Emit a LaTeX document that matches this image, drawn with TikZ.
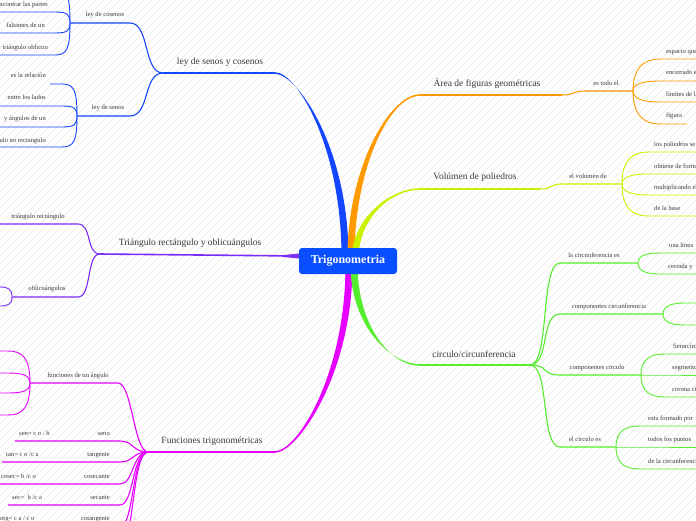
\documentclass[tikz,border=0pt]{standalone}
\usepackage{fontspec}
\setmainfont{Liberation Serif}
\usepackage{tikz}
\usetikzlibrary{calc}
\definecolor{core}{HTML}{0A4FFF}
\definecolor{senos}{HTML}{1446FF}
\definecolor{tri}{HTML}{7B2CF7}
\definecolor{func}{HTML}{E600FF}
\definecolor{area}{HTML}{FF9A00}
\definecolor{vol}{HTML}{C9F200}
\definecolor{circ}{HTML}{55EE2E}
\definecolor{ink}{HTML}{3A3A3A}
\definecolor{hatchc}{HTML}{EAEAEA}
\newcommand{\limb}[5]{%
  \fill[#1] ($(#2)+(-3.5,0)$) .. controls +(#4) and +(#5) .. ($(#3)+(0,-.8)$)
    -- ($(#3)+(0,.8)$) .. controls +(#5) and +(#4) .. ($(#2)+(3.5,0)$) -- cycle;}

\begin{document}
\begin{tikzpicture}[
  x=1pt, y=-1pt,
  root/.style={fill=core, rounded corners=3pt, text=white, font=\fontsize{12}{14}\selectfont\bfseries, minimum width=98pt, minimum height=26pt, inner sep=0pt},
  topic/.style={text=ink, font=\fontsize{9.5}{11}\selectfont, inner sep=0pt, text height=6.5pt, text depth=2pt},
  twig/.style={text=ink, font=\fontsize{6.6}{8}\selectfont, inner sep=0pt, text height=4.6pt, text depth=1.4pt},
  stem/.style={line width=1.6pt},
  bough/.style={line width=1.1pt},
  sprig/.style={line width=.9pt}
]
\clip (0,0) rectangle (696,520);
\fill[white] (0,0) rectangle (696,520);
\foreach \i in {-520,-512,...,696}
  \draw[hatchc, line width=.4pt] (\i,520) -- +(520,-520);

\coordinate (core) at (348,261);
\coordinate (leyO) at (345,257);  \coordinate (leyS) at (275,73);  \coordinate (leyE) at (163,73);
\coordinate (areaO) at (351,257); \coordinate (areaS) at (420,95); \coordinate (areaE) at (562,95);
\coordinate (volO) at (355,259);  \coordinate (volS) at (420,189); \coordinate (volE) at (540,189);
\coordinate (funO) at (349,265);  \coordinate (funS) at (275,452); \coordinate (funE) at (148,452);
\coordinate (cirO) at (354,265);  \coordinate (cirS) at (420,365); \coordinate (cirE) at (530,365);
\coordinate (triS) at (298,256);  \coordinate (triE) at (100,254);

\limb{senos}{leyO}{leyS}{0,-110}{22,0}
\limb{area}{areaO}{areaS}{0,-90}{-30,0}
\limb{vol}{volO}{volS}{0,-40}{-30,0}
\limb{func}{funO}{funS}{0,110}{22,0}
\limb{circ}{cirO}{cirS}{0,60}{-30,0}
\fill[tri] ($(triS)+(6,-3)$) -- ($(triS)+(-16,-.8)$) -- ($(triS)+(-16,.8)$) -- ($(triS)+(6,3)$) -- cycle;
\draw[stem,senos] (leyS) -- (leyE);
\draw[stem,area] (areaS) -- (areaE);
\draw[stem,vol] (volS) -- (volE);
\draw[stem,func] (funS) -- (funE);
\draw[stem,circ] (cirS) -- (cirE);
\draw[stem,tri] (triS) -- (triE);

\coordinate (cosR) at (130,23);  \coordinate (cosH) at (70,23);
\coordinate (senR) at (130,116); \coordinate (senH) at (77,116);
\draw[bough,senos] (leyE) .. controls +(-20,0) and +(20,0) .. (cosR) -- (cosH);
\draw[bough,senos] (leyE) .. controls +(-20,0) and +(20,0) .. (senR) -- (senH);
\foreach \y in {-12,12,33,55}
  \draw[sprig,senos] (cosH) .. controls +(0,{0.8*(\y-23)}) and +(12,0) .. (55,\y) -- (0,\y);
\foreach \y/\x in {84/50,106/0,127/0,147/0}
  \draw[sprig,senos] (senH) .. controls +(0,{0.8*(\y-116)}) and +(12,0) .. (62,\y) -- (\x,\y);

\coordinate (rectR) at (78,224); \coordinate (rectL) at (0,224);
\coordinate (obliR) at (78,297); \coordinate (obliH) at (12,297);
\draw[bough,tri] (triE) .. controls +(-14,0) and +(14,0) .. (rectR) -- (rectL);
\draw[bough,tri] (triE) .. controls +(-14,0) and +(14,0) .. (obliR) -- (obliH);
\foreach \y in {287,306}
  \draw[sprig,tri] (obliH) .. controls +(0,{0.8*(\y-297)}) and +(8,0) .. (0,\y);

\coordinate (angR) at (118,383); \coordinate (angH) at (30,383);
\draw[bough,func] (funE) .. controls +(-14,0) and +(14,0) .. (angR) -- (angH);
\foreach \y in {351,373,393,415}
  \draw[sprig,func] (angH) .. controls +(0,{0.8*(\y-383)}) and +(14,0) .. (8,\y) -- (0,\y);
\foreach \y/\x in {441/15,462/2,484/0,505/8,527/0,548/0}
  \draw[bough,func] (funE) .. controls +(-16,0) and +(14,0) .. (120,\y) -- (\x,\y);

\coordinate (todoH) at (633,91);
\draw[bough,area] (areaE) .. controls +(12,0) and +(-12,0) .. (585,91) -- (todoH);
\foreach \y/\x in {59/700,81/700,102/700,124/687}
  \draw[sprig,area] (todoH) .. controls +(0,{0.8*(\y-91)}) and +(-14,0) .. (660,\y) -- (\x,\y);

\coordinate (volH) at (622,184);
\draw[bough,vol] (volE) .. controls +(12,0) and +(-12,0) .. (562,184) -- (volH);
\foreach \y in {152,174,195,216}
  \draw[sprig,vol] (volH) .. controls +(0,{0.8*(\y-184)}) and +(-14,0) .. (648,\y) -- (700,\y);

\coordinate (lineaH) at (638,263); \coordinate (compH) at (663,314);
\coordinate (partH) at (641,375);  \coordinate (esH) at (616,447);
\foreach \h/\y in {lineaH/263,compH/314,partH/375,esH/447}
  \draw[bough,circ] (cirE) .. controls +(20,0) and +(-20,0) .. (560,\y) -- (\h);
\foreach \y in {253,274}
  \draw[sprig,circ] (lineaH) .. controls +(0,{0.8*(\y-263)}) and +(-12,0) .. (660,\y) -- (700,\y);
\foreach \y in {303,325}
  \draw[sprig,circ] (compH) .. controls +(0,{0.8*(\y-314)}) and +(-12,0) .. (685,\y) -- (700,\y);
\foreach \y in {354,375,397}
  \draw[sprig,circ] (partH) .. controls +(0,{0.8*(\y-375)}) and +(-14,0) .. (665,\y) -- (700,\y);
\foreach \y in {426,447,469}
  \draw[sprig,circ] (esH) .. controls +(0,{0.8*(\y-447)}) and +(-14,0) .. (640,\y) -- (700,\y);

\node[topic] (leyT) at (220,62) {ley de senos y cosenos};
\node[topic] (triT) at (190,243) {Triángulo rectángulo y oblicuángulos};
\node[topic] (funT) at (212,441) {Funciones trigonométricas};
\node[topic] (areaT) at (487,84) {Área de figuras geométricas};
\node[topic] (volT) at (475,177) {Volúmen de poliedros};
\node[topic] (cirT) at (474,355) {circulo/circunferencia};

\node[twig] (cosT) at (105,15) {ley de cosenos};
\node[twig] (senT) at (108,108) {ley de senos};
\node[twig, anchor=east] (cos1) at (48,5) {encontrar las partes};
\node[twig, anchor=east] (cos2) at (45,26) {faltantes de un};
\node[twig, anchor=east] (cos3) at (48,48) {triángulo oblicuo};
\node[twig, anchor=east] (sen1) at (46,76) {es la relación};
\node[twig, anchor=east] (sen2) at (46,98) {entre los lados};
\node[twig, anchor=east] (sen3) at (46,119) {y ángulos de un};
\node[twig, anchor=east] (sen4) at (46,141) {triángulo no rectangulo};

\node[twig] (rectT) at (38,217) {triángulo rectángulo};
\node[twig] (obliT) at (47,289) {oblicuángulos};

\node[twig] (angT) at (78,376) {funciones de un ángulo};
\node[twig, anchor=east] (senoT) at (110,434) {seno};
\node[twig, anchor=east] (tanT) at (110,455) {tangente};
\node[twig, anchor=east] (cscT) at (110,477) {cosecante};
\node[twig, anchor=east] (secT) at (110,498) {secante};
\node[twig, anchor=east] (cotT) at (110,519) {cotangente};
\node[twig, anchor=west] (senoF) at (19,434) {sen= c o / h};
\node[twig, anchor=west] (tanF) at (6,455) {tan= c o /c a};
\node[twig, anchor=east] (cscF) at (36,477) {cosec= h /c o};
\node[twig, anchor=west] (secF) at (12,498) {sec=\ \ h /c a};
\node[twig, anchor=west] (cotF) at (-3,519) {cotg= c a / c o};

\node[twig] (todoT) at (606,84) {es todo el};
\node[twig, anchor=west] (area1) at (666,52) {espacio que ocupa};
\node[twig, anchor=west] (area2) at (666,73) {encerrado entre los};
\node[twig, anchor=west] (area3) at (666,95) {límites de la};
\node[twig, anchor=west] (area4) at (666,116) {figura};

\node[twig] (volumT) at (588,177) {el volumen de};
\node[twig, anchor=west] (vol1) at (654,145) {los poliedros se};
\node[twig, anchor=west] (vol2) at (654,167) {obtiene de forma};
\node[twig, anchor=west] (vol3) at (654,188) {multiplicando el};
\node[twig, anchor=west] (vol4) at (654,209) {de la base};

\node[twig] (lineaT) at (594,256) {la circunferencia es};
\node[twig] (compT) at (609,307) {componentes circunferencia};
\node[twig] (partT) at (597,368) {componentes circulo};
\node[twig] (esT) at (585,440) {el circulo es};
\node[twig, anchor=west] (linea1) at (669,246) {una línea};
\node[twig, anchor=west] (linea2) at (668,267) {cerrada y};
\node[twig, anchor=west] (part1) at (673,347) {Semicírculo};
\node[twig, anchor=west] (part2) at (672,368) {segmento};
\node[twig, anchor=west] (part3) at (672,390) {corona circular};
\node[twig, anchor=west] (es1) at (648,419) {esta formado por};
\node[twig, anchor=west] (es2) at (648,440) {todos los puntos};
\node[twig, anchor=west] (es3) at (648,462) {de la circunferencia};

\node[root] (trig) at (core) {Trigonometria};
\end{tikzpicture}
\end{document}
